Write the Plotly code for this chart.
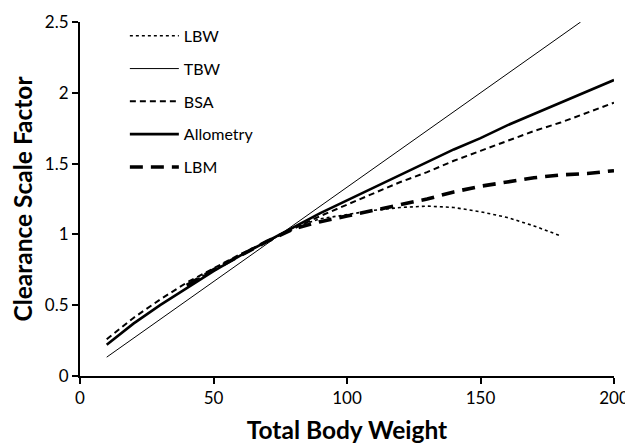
import plotly.graph_objects as go

# Data
tbw_x = [10, 50, 100, 150, 187.5]
tbw_y = [0.133, 0.667, 1.333, 2.0, 2.5]

grid_x = [10, 20, 30, 40, 50, 60, 70, 80, 90, 100, 110, 120, 130, 140, 150, 160, 170, 180, 190, 200]
allo_y = [0.22, 0.37, 0.50, 0.62, 0.74, 0.85, 0.95, 1.05, 1.15, 1.24, 1.33, 1.42, 1.51, 1.60, 1.68, 1.77, 1.85, 1.93, 2.01, 2.09]
bsa_y = [0.26, 0.41, 0.54, 0.66, 0.76, 0.86, 0.95, 1.04, 1.13, 1.21, 1.29, 1.37, 1.44, 1.52, 1.59, 1.66, 1.73, 1.79, 1.86, 1.93]

lbm_x = [40, 50, 60, 70, 80, 90, 100, 110, 120, 130, 140, 150, 160, 170, 180, 190, 200]
lbm_y = [0.64, 0.75, 0.85, 0.95, 1.04, 1.09, 1.13, 1.17, 1.21, 1.25, 1.30, 1.34, 1.37, 1.40, 1.42, 1.43, 1.45]

lbw_x = [40, 50, 60, 70, 80, 90, 100, 110, 120, 130, 140, 150, 160, 170, 180]
lbw_y = [0.64, 0.75, 0.85, 0.95, 1.05, 1.11, 1.14, 1.17, 1.19, 1.20, 1.19, 1.16, 1.12, 1.06, 0.99]

x_ticks = [0, 50, 100, 150, 200]
y_ticks = [0, 0.5, 1, 1.5, 2, 2.5]
y_tick_text = ["0", "0.5", "1", "1.5", "2", "2.5"]

FONT = "Lato, 'Open Sans', sans-serif"

fig = go.Figure()
fig.add_trace(go.Scatter(x=lbw_x, y=lbw_y, mode="lines", name="LBW", legendgroup="a",
                         line=dict(color="black", width=1.6, dash="dot")))
fig.add_trace(go.Scatter(x=tbw_x, y=tbw_y, mode="lines", name="TBW", legendgroup="b",
                         line=dict(color="black", width=1)))
fig.add_trace(go.Scatter(x=grid_x, y=bsa_y, mode="lines", name="BSA", legendgroup="c",
                         line=dict(color="black", width=2, dash="6px,4px")))
fig.add_trace(go.Scatter(x=grid_x, y=allo_y, mode="lines", name="Allometry", legendgroup="d",
                         line=dict(color="black", width=2.6)))
fig.add_trace(go.Scatter(x=lbm_x, y=lbm_y, mode="lines", name="LBM", legendgroup="e",
                         line=dict(color="black", width=3.6, dash="13px,8px")))

# The page body has an 8px margin, so the figure is 8px smaller and margins shifted
fig.update_layout(
    width=625, height=436,
    margin=dict(l=72, r=19, t=13, b=68),
    paper_bgcolor="white", plot_bgcolor="white",
    font=dict(family=FONT, color="black", size=16),
    showlegend=True,
    legend=dict(x=0.084, y=1.006, xanchor="left", yanchor="top",
                bgcolor="rgba(0,0,0,0)", font=dict(size=16, family=FONT),
                tracegroupgap=9, itemwidth=49, traceorder="grouped"),
    xaxis=dict(range=[0, 200], tickvals=x_ticks, showgrid=False, zeroline=False,
               showline=True, linecolor="black", linewidth=2, automargin=False,
               ticks="outside", ticklen=6, tickwidth=2, tickcolor="black",
               tickfont=dict(size=17),
               title=dict(text="<b>Total Body Weight</b>", font=dict(size=24.5), standoff=20)),
    yaxis=dict(range=[0, 2.5], tickvals=y_ticks, ticktext=y_tick_text, showgrid=False, zeroline=False,
               showline=True, linecolor="black", linewidth=2, automargin=False,
               ticks="outside", ticklen=6, tickwidth=2, tickcolor="black",
               tickfont=dict(size=17),
               title=dict(text="<b>Clearance Scale Factor</b>", font=dict(size=24.5), standoff=11)),
)

fig.write_html("out.html")
